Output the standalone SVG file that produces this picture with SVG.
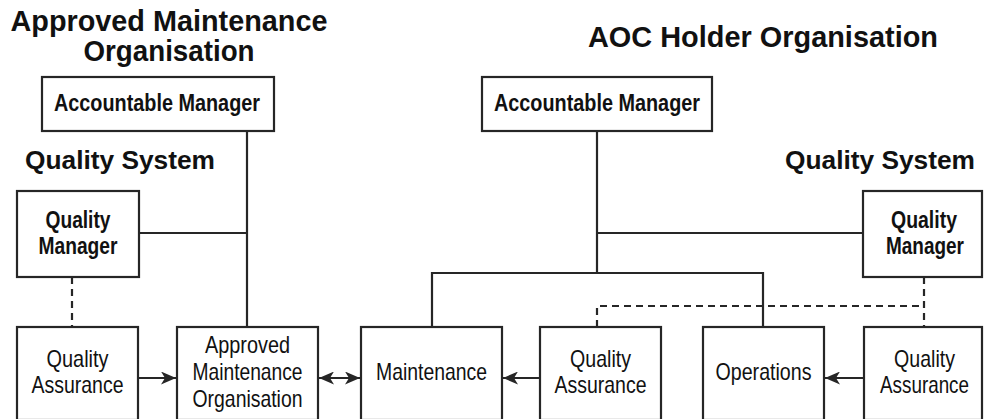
<svg xmlns="http://www.w3.org/2000/svg" width="984" height="419" viewBox="0 0 984 419">
<style>
  .box { fill: #fff; stroke: #262626; stroke-width: 2.2; }
  .ln { fill: none; stroke: #262626; stroke-width: 2.2; }
  .dash { fill: none; stroke: #262626; stroke-width: 2.2; stroke-dasharray: 7 5; }
  text { fill: #111; font-family: "Liberation Sans", Arial, sans-serif; text-anchor: middle; }
  .title { font-size: 29px; font-weight: bold; }
  .qs { font-size: 26px; font-weight: bold; }
  .bn { font-size: 24px; font-weight: bold; }
  .bq { font-size: 23px; font-weight: bold; }
  .rn { font-size: 24px; }
</style>
<defs>
  <marker id="ah" viewBox="0 0 15 13" refX="15" refY="6.5" markerWidth="15" markerHeight="13" markerUnits="userSpaceOnUse" orient="auto-start-reverse">
    <path d="M0,0 L15,6.5 L0,13 L4,6.5 z" fill="#262626"/>
  </marker>
</defs>

<g id="titles">
  <text class="title" x="169" y="31" textLength="317" lengthAdjust="spacingAndGlyphs">Approved Maintenance</text>
  <text class="title" x="169" y="61" textLength="171" lengthAdjust="spacingAndGlyphs">Organisation</text>
  <text class="title" x="763" y="47" textLength="350" lengthAdjust="spacingAndGlyphs">AOC Holder Organisation</text>
  <text class="qs" x="120" y="169" textLength="190" lengthAdjust="spacingAndGlyphs">Quality System</text>
  <text class="qs" x="880" y="169" textLength="190" lengthAdjust="spacingAndGlyphs">Quality System</text>
</g>

<g id="connectors">
  <line class="ln" x1="247" y1="131" x2="247" y2="327"/>
  <line class="ln" x1="139" y1="233" x2="247" y2="233"/>
  <line class="dash" x1="72" y1="277" x2="72" y2="327"/>
  <line class="ln" x1="597" y1="131" x2="597" y2="273"/>
  <line class="ln" x1="597" y1="233" x2="863" y2="233"/>
  <polyline class="ln" points="432,327 432,273 763,273 763,327"/>
  <polyline class="dash" points="597,327 597,306 924,306"/>
  <line class="dash" x1="924" y1="277" x2="924" y2="327"/>
  <line class="ln" x1="138" y1="378" x2="176" y2="378" marker-end="url(#ah)"/>
  <line class="ln" x1="319" y1="378" x2="360" y2="378" marker-start="url(#ah)" marker-end="url(#ah)"/>
  <line class="ln" x1="540" y1="378" x2="503" y2="378" marker-end="url(#ah)"/>
  <line class="ln" x1="864" y1="378" x2="825" y2="378" marker-end="url(#ah)"/>
</g>

<g id="amo-accountable-manager">
  <rect class="box" x="42" y="77" width="232" height="54"/>
  <text class="bn" x="157" y="111" textLength="206" lengthAdjust="spacingAndGlyphs">Accountable Manager</text>
</g>
<g id="aoc-accountable-manager">
  <rect class="box" x="482" y="77" width="230" height="54"/>
  <text class="bn" x="597" y="111" textLength="206" lengthAdjust="spacingAndGlyphs">Accountable Manager</text>
</g>
<g id="amo-quality-manager">
  <rect class="box" x="17" y="191" width="122" height="86"/>
  <text class="bq" x="78" y="228" textLength="65" lengthAdjust="spacingAndGlyphs">Quality</text>
  <text class="bq" x="78" y="254" textLength="79" lengthAdjust="spacingAndGlyphs">Manager</text>
</g>
<g id="aoc-quality-manager">
  <rect class="box" x="863" y="191" width="119" height="86"/>
  <text class="bq" x="924" y="228" textLength="66" lengthAdjust="spacingAndGlyphs">Quality</text>
  <text class="bq" x="925" y="254" textLength="78" lengthAdjust="spacingAndGlyphs">Manager</text>
</g>
<g id="amo-quality-assurance">
  <rect class="box" x="17" y="327" width="121" height="93"/>
  <text class="rn" x="77.5" y="367" textLength="62" lengthAdjust="spacingAndGlyphs">Quality</text>
  <text class="rn" x="77.5" y="393" textLength="92" lengthAdjust="spacingAndGlyphs">Assurance</text>
</g>
<g id="amo">
  <rect class="box" x="177" y="327" width="141" height="93"/>
  <text class="rn" x="247.5" y="353" textLength="85" lengthAdjust="spacingAndGlyphs">Approved</text>
  <text class="rn" x="247.5" y="380" textLength="110" lengthAdjust="spacingAndGlyphs">Maintenance</text>
  <text class="rn" x="247.5" y="407" textLength="110" lengthAdjust="spacingAndGlyphs">Organisation</text>
</g>
<g id="aoc-maintenance">
  <rect class="box" x="361" y="327" width="141" height="93"/>
  <text class="rn" x="431.5" y="380" textLength="111" lengthAdjust="spacingAndGlyphs">Maintenance</text>
</g>
<g id="aoc-quality-assurance-1">
  <rect class="box" x="540" y="327" width="121" height="93"/>
  <text class="rn" x="600.5" y="367" textLength="61" lengthAdjust="spacingAndGlyphs">Quality</text>
  <text class="rn" x="600.5" y="393" textLength="92" lengthAdjust="spacingAndGlyphs">Assurance</text>
</g>
<g id="aoc-operations">
  <rect class="box" x="703" y="327" width="121" height="93"/>
  <text class="rn" x="763.5" y="380" textLength="96" lengthAdjust="spacingAndGlyphs">Operations</text>
</g>
<g id="aoc-quality-assurance-2">
  <rect class="box" x="864" y="327" width="118" height="93"/>
  <text class="rn" x="924.5" y="367" textLength="61" lengthAdjust="spacingAndGlyphs">Quality</text>
  <text class="rn" x="924.5" y="393" textLength="89" lengthAdjust="spacingAndGlyphs">Assurance</text>
</g>
</svg>
